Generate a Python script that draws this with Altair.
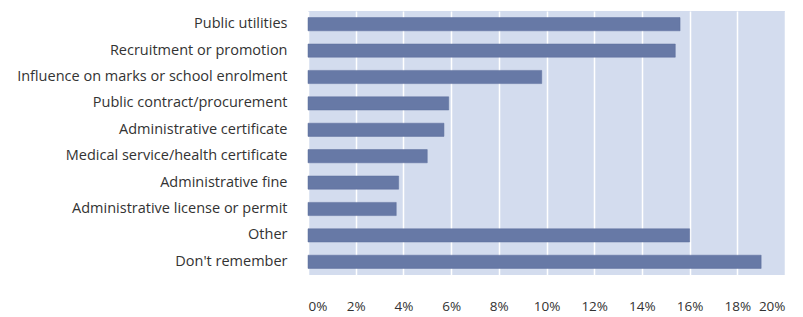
import altair as alt
import pandas as pd

categories = [
    "Public utilities",
    "Recruitment or promotion",
    "Influence on marks or school enrolment",
    "Public contract/procurement",
    "Administrative certificate",
    "Medical service/health certificate",
    "Administrative fine",
    "Administrative license or permit",
    "Other",
    "Don't remember",
]
values = [15.6, 15.4, 9.8, 5.9, 5.7, 5.0, 3.8, 3.7, 16.0, 19.0]
x_ticks = [0, 2, 4, 6, 8, 10, 12, 14, 16, 18, 20]

df = pd.DataFrame({"category": categories, "value": [v / 100 for v in values]})

chart = (
    alt.Chart(df)
    .mark_bar(color="#6779A6", stroke="#5a6c9a", strokeWidth=0.5)
    .encode(
        x=alt.X(
            "value:Q",
            scale=alt.Scale(domain=[0, 0.2], nice=False),
            axis=alt.Axis(
                values=[t / 100 for t in x_ticks],
                format=".0%",
                title=None,
                domain=False,
                ticks=False,
                grid=True,
                gridColor="white",
                gridWidth=1.5,
                labelPadding=24,
                labelFont="Open Sans",
                labelFontSize=13.5,
                labelColor="#333333",
            ),
        ),
        y=alt.Y(
            "category:N",
            sort=categories,
            scale=alt.Scale(paddingInner=0.5, paddingOuter=0.25),
            axis=alt.Axis(
                title=None,
                domain=False,
                ticks=False,
                grid=False,
                labelPadding=21,
                labelLimit=0,
                labelFont="Open Sans",
                labelFontSize=14.5,
                labelColor="#333333",
            ),
        ),
    )
    .properties(
        width=477,
        height=264,
        autosize=alt.AutoSizeParams(type="none"),
        padding={"left": 300, "top": 3, "right": 10, "bottom": 40},
    )
    .configure_view(fill="#D3DCEE", stroke=None)
)

chart.save("out.html", embed_options={"renderer": "svg", "actions": False})
